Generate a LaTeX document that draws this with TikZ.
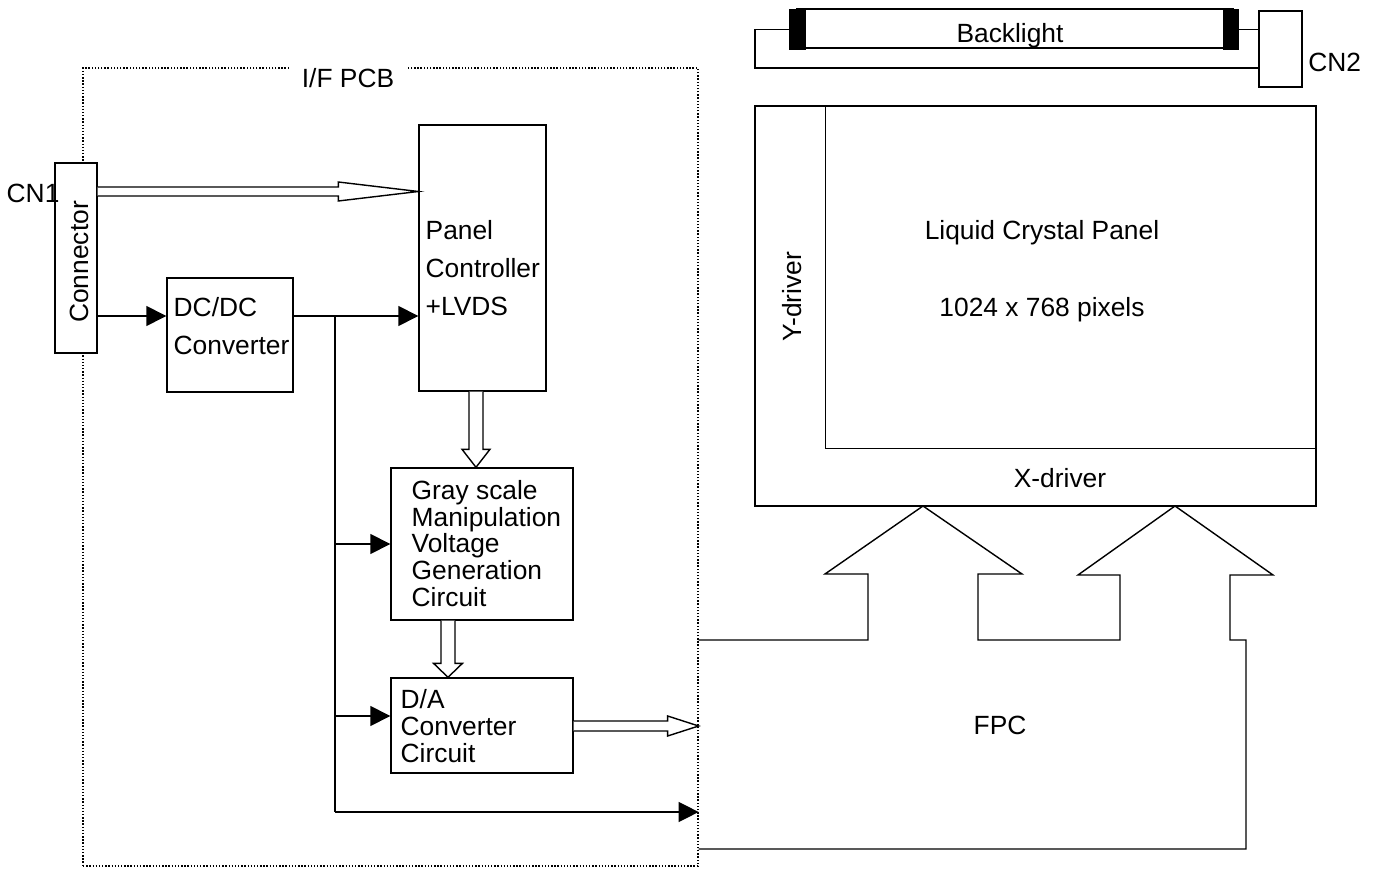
\documentclass[tikz,border=0pt]{standalone}
\usepackage{fontspec}
\setmainfont{Liberation Sans}
\usetikzlibrary{arrows.meta,calc,positioning}

% wide (hollow) bus arrows: start, tip, head length, shaft half width, head half width
\newcommand{\busright}[5]{%
  \draw[fill=white] ($(#1)+(0,#4)$) -- ($(#2)+(-#3,#4)$) -- ($(#2)+(-#3,#5)$) -- (#2)
    -- ($(#2)+(-#3,-#5)$) -- ($(#2)+(-#3,-#4)$) -- ($(#1)+(0,-#4)$);}
\newcommand{\busdown}[5]{%
  \draw[fill=white] ($(#1)+(-#4,0)$) -- ($(#2)+(-#4,-#3)$) -- ($(#2)+(-#5,-#3)$) -- (#2)
    -- ($(#2)+(#5,-#3)$) -- ($(#2)+(#4,-#3)$) -- ($(#1)+(#4,0)$);}

\begin{document}
\begin{tikzpicture}[
    x = 0.02cm,
    y = -0.02cm,
    line width = 0.8pt
  ]

  \useasboundingbox (0,0) rectangle (1380,871);

  \tikzstyle {every node} = [font = \fontsize{15}{18}\selectfont, inner sep = 0]
  \tikzstyle {box} = [draw, rectangle, fill = white]
  \tikzstyle {txt} = [align = left, font = \fontsize{15}{15.2}\selectfont]
  \tikzstyle {wide} = [align = left, font = \fontsize{15}{21.6}\selectfont]
  \tikzstyle {pwr} = [-{Triangle[length = 0.4cm, width = 0.4cm]}]
  \tikzstyle {lampend} = [draw, fill = black, minimum width = 0.3cm, minimum height = 0.78cm]

  \node [draw, densely dotted, minimum width = 12.3cm, minimum height = 15.96cm] (pcb) at (390.5,467) {};
  \node [fill = white, inner xsep = 0.26cm, inner ysep = 0.1cm] (pcblbl) at (348,78) {I/F PCB};

  \node [box, minimum width = 0.84cm, minimum height = 3.8cm] (conn) at (76,258) {};
  \node [rotate = 90] (connlbl) at (79,262) {Connector};
  \node [anchor = west] (cn1) at (6,193) {CN1};
  \node [box, minimum width = 2.52cm, minimum height = 2.28cm] (dcdc) at (230,335) {};
  \node [wide, anchor = west] (dcdclbl) at (173,326) {DC/DC\\Converter};
  \node [box, minimum width = 2.54cm, minimum height = 5.32cm] (pc) at (482.5,258) {};
  \node [wide, anchor = west] (pclbl) at (425,268.5) {Panel\\Controller\\+LVDS};
  \node [box, minimum width = 3.64cm, minimum height = 3.04cm] (gray) at (482,544) {};
  \node [txt, anchor = west] (graylbl) at (411,543.5) {Gray scale\\Manipulation\\Voltage\\Generation\\Circuit};
  \node [box, minimum width = 3.64cm, minimum height = 1.9cm] (da) at (482,725.5) {};
  \node [txt, anchor = west] (dalbl) at (400,726) {D/A\\Converter\\Circuit};

  \node [box, minimum width = 11.22cm, minimum height = 8cm] (lcd) at (1035.5,306) {};
  \node [draw, line width = 0.6pt, minimum width = 9.82cm, minimum height = 6.86cm, anchor = north east] (lcp) at (lcd.north east) {};
  \node (lcplbl) at (1042,232.6) {Liquid Crystal Panel};
  \node (res) at (1042,309.6) {1024 x 768 pixels};
  \node [rotate = 90] (ydrv) at (792,297) {Y-driver};
  \node (xdrv) at (1060,478) {X-driver};

  \node [box, minimum width = 8.72cm, minimum height = 0.78cm] (tube) at (1015,28.5) {};
  \node (bl) at (1010,35.6) {Backlight};
  \node [lampend] (lampl) at (797.5,29.5) {};
  \node [lampend] (lampr) at (1231,29.5) {};
  \node [box, minimum width = 0.86cm, minimum height = 1.52cm] (cn2) at (1280.5,49) {};
  \node [right = 0.1cm of cn2, yshift = -0.26cm] (cn2lbl) {CN2};

  \draw (lampl.west) -- (755,29.5) -- (755,68) -- (cn2.west |- 0,68);
  \draw (lampr.east) -- (cn2.west |- lampr.east);

  \busright{conn.east |- 0,191.5}{pc.west |- 0,191.5}{80}{4.5}{9.5}
  \busdown{pc.south -| 476,0}{gray.north -| 476,0}{18}{7}{14}
  \busdown{gray.south -| 448,0}{da.north -| 448,0}{14}{7}{14.5}
  \busright{da.east |- 0,726}{pcb.east |- 0,726}{31}{5}{10}

  \coordinate (split) at (335,316);
  \draw [pwr] (conn.east |- split) -- (dcdc.west |- split);
  \draw [pwr] (dcdc.east |- split) -- (pc.west |- split);
  \draw (split) -- (split |- 0,812);
  \draw [pwr] (split |- gray.west) -- (gray.west);
  \draw [pwr] (split |- 0,716) -- (da.west |- 0,716);
  \draw [pwr] (split |- 0,812) -- (pcb.east |- 0,812);

  \draw (pcb.east |- 0,640) -- (868,640) -- (868,574) -- (825,574) -- (923,506) -- (1022,574) -- (978,574) -- (978,640)
    -- (1120,640) -- (1120,575) -- (1078,575) -- (1175,506) -- (1273,575) -- (1230,575) -- (1230,640) -- (1246,640)
    -- (1246,849) -- (pcb.east |- 0,849);
  \node (fpc) at (1000,725) {FPC};
\end{tikzpicture}
\end{document}
